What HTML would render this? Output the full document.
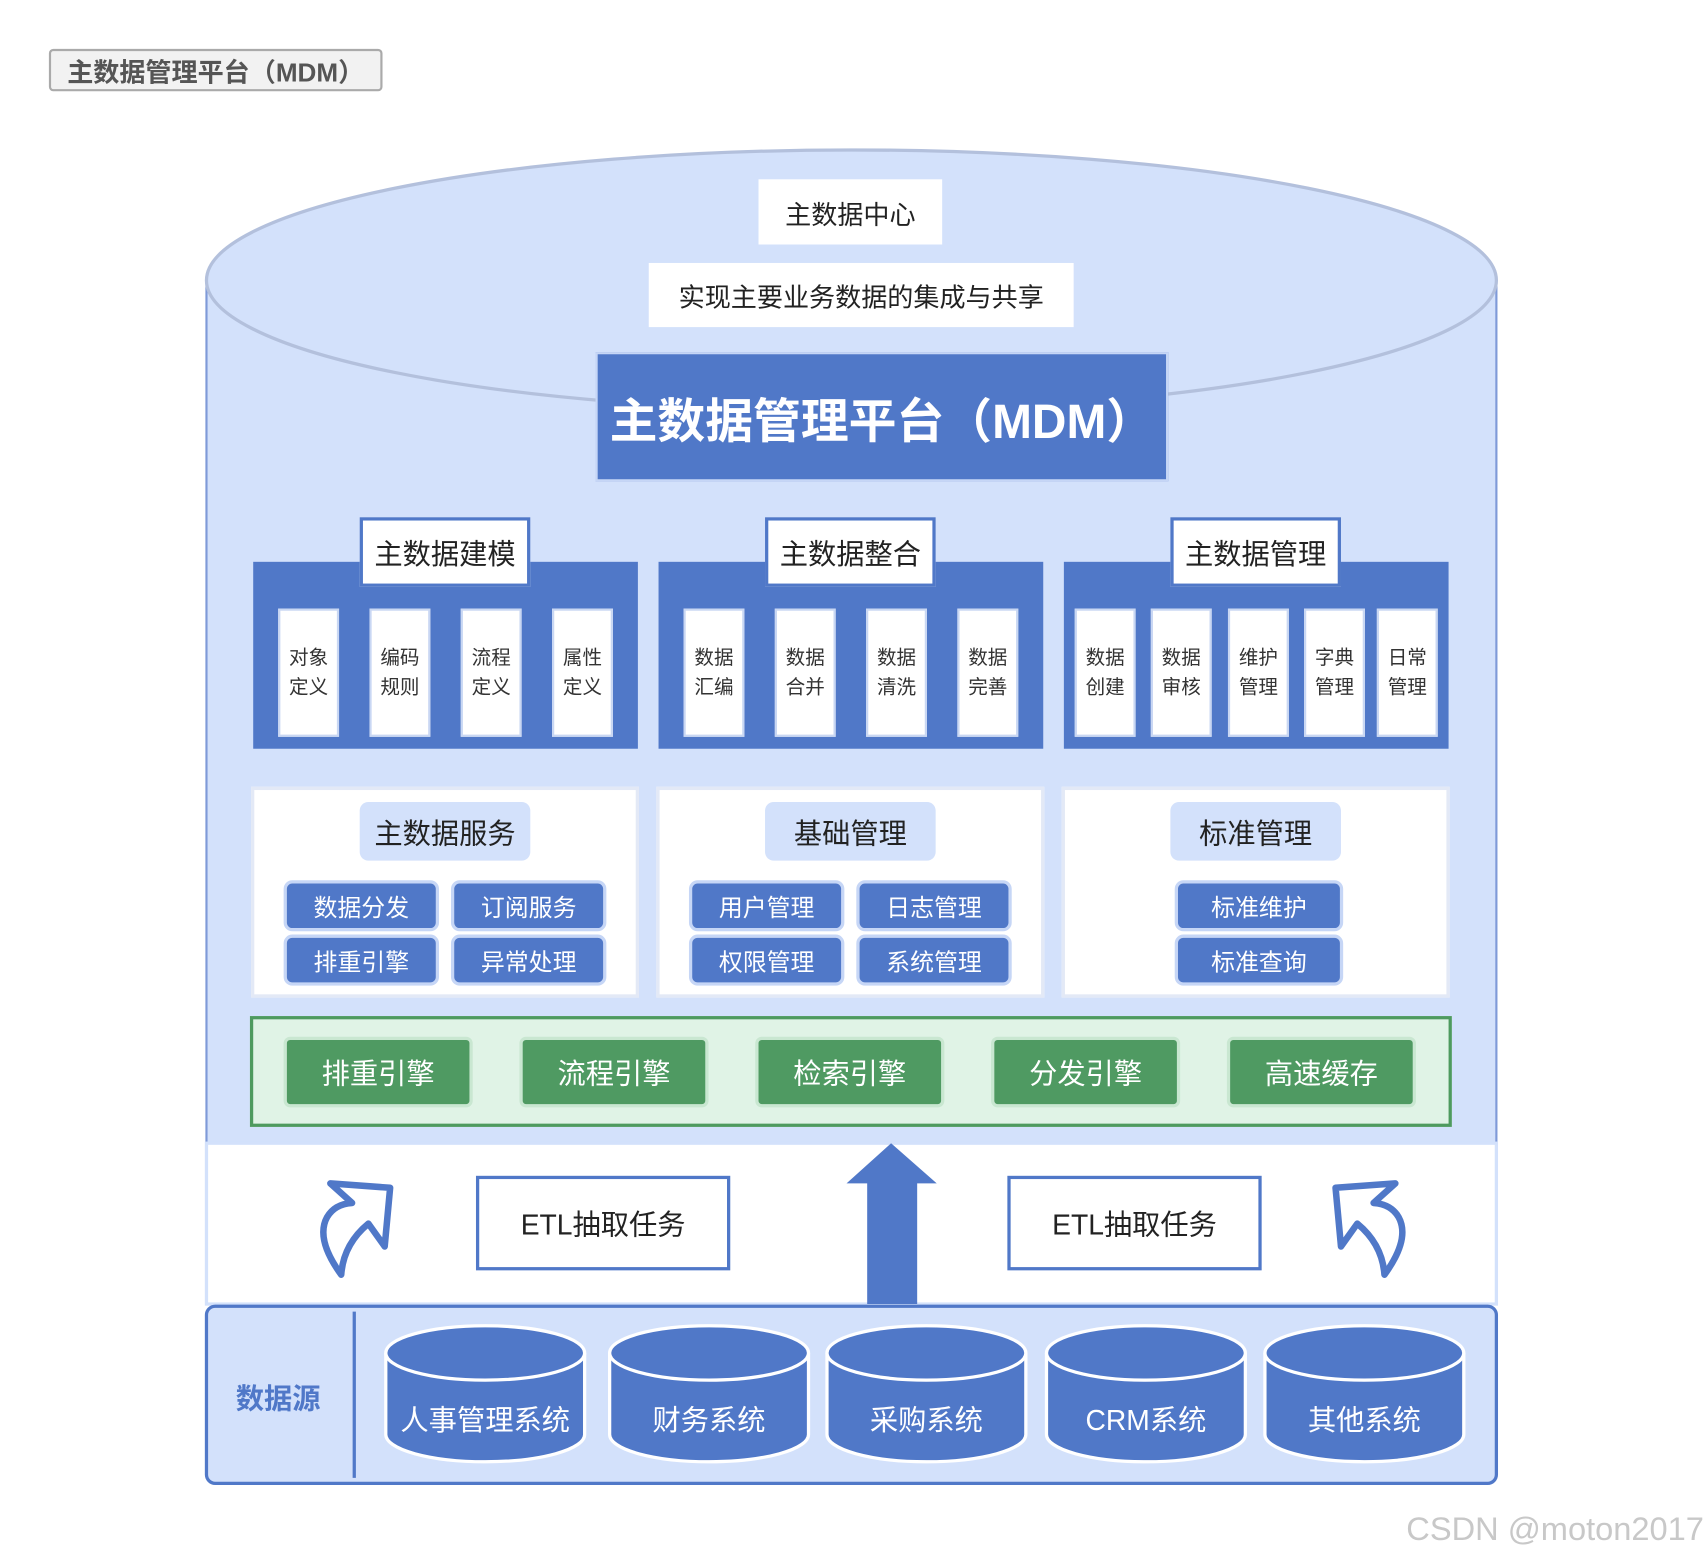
<!DOCTYPE html>
<html><head><meta charset="utf-8"><style>
html,body{margin:0;padding:0;background:#fff;width:1704px;height:1558px;overflow:hidden}
#w{position:absolute;left:0;top:0;width:1568px;height:1434px;transform:scale(1.0867);transform-origin:0 0;font-family:"Liberation Sans","Noto Sans CJK SC",sans-serif}
.a{position:absolute;box-sizing:border-box;display:flex;align-items:center;justify-content:center;text-align:center}
.wb{background:#fff;color:#222;font-size:24px}
.hd{background:#fff;border:3px solid #5078c8;font-size:26px;color:#222}
.dp{background:#5078c8}
.cell{background:#fff;font-size:18px;line-height:27px;color:#333;border:2px solid #c9d7f3}
.wp{background:#fff;border:3px solid #e3e9f6}
.lp{background:#d3e1fb;border-radius:8px;font-size:26px;color:#222}
.bb{background:#5078c8;border:3px solid #c6d6f6;border-radius:8px;color:#fff;font-size:22px}
.gb{background:#4f9a62;border:3px solid #c9e7d1;border-radius:6px;color:#fff;font-size:26px}
.etl{background:#fff;border:3px solid #5078c8;font-size:26px;color:#222}
</style></head><body><div id="w">
<div class="a" style="left:45px;top:45px;width:307px;height:39px;background:#f2f2f2;border:2px solid #aaa;border-radius:4px;color:#555;font-weight:bold;font-size:24px">主数据管理平台（MDM）</div>
<svg width="1568" height="1434" style="position:absolute;left:0;top:0">
<rect x="190" y="258" width="1187" height="794" fill="#d3e1fb"/>
<line x1="190" y1="258" x2="190" y2="1052" stroke="#7f9ad8" stroke-width="2"/>
<line x1="1377" y1="258" x2="1377" y2="1052" stroke="#7f9ad8" stroke-width="2"/>
<ellipse cx="783.5" cy="258" rx="593.5" ry="120" fill="#d3e1fb" stroke="#b3c0dc" stroke-width="3"/>
<rect x="190" y="1052" width="1187" height="148" fill="#fff" stroke="#d3e1fb" stroke-width="3"/>
<rect x="190" y="1202" width="1187" height="163" rx="8" fill="#d3e1fb" stroke="#5078c8" stroke-width="3"/>
<line x1="326" y1="1207" x2="326" y2="1360" stroke="#5078c8" stroke-width="3"/>
<polygon points="820,1052 862,1089 844,1089 844,1200 798,1200 798,1089 779,1089" fill="#5078c8"/>
<path d="M304,1089 L359,1093 L354,1147 L339,1126 Q316,1145 314,1173 Q290,1140 301,1120 Q308,1108 324,1107 Z" fill="#fff" stroke="#5078c8" stroke-width="6" stroke-linejoin="round"/>
<g transform="translate(1588,0) scale(-1,1)"><path d="M304,1089 L359,1093 L354,1147 L339,1126 Q316,1145 314,1173 Q290,1140 301,1120 Q308,1108 324,1107 Z" fill="#fff" stroke="#5078c8" stroke-width="6" stroke-linejoin="round"/></g>
<g fill="#5078c8" stroke="#fff" stroke-width="3">
<path d="M355,1245 V1320 A91,25 0 0 0 538,1320 V1245"/><ellipse cx="446.5" cy="1245" rx="91.5" ry="25"/>
<path d="M561,1245 V1320 A91,25 0 0 0 744,1320 V1245"/><ellipse cx="652.5" cy="1245" rx="91.5" ry="25"/>
<path d="M761,1245 V1320 A91,25 0 0 0 944,1320 V1245"/><ellipse cx="852.5" cy="1245" rx="91.5" ry="25"/>
<path d="M963,1245 V1320 A91,25 0 0 0 1146,1320 V1245"/><ellipse cx="1054.5" cy="1245" rx="91.5" ry="25"/>
<path d="M1164,1245 V1320 A91,25 0 0 0 1347,1320 V1245"/><ellipse cx="1255.5" cy="1245" rx="91.5" ry="25"/>
</g>
</svg>
<div class="a wb" style="left:698px;top:165px;width:169px;height:60px">主数据中心</div>
<div class="a wb" style="left:597px;top:242px;width:391px;height:59px">实现主要业务数据的集成与共享</div>
<div class="a" style="left:548px;top:324px;width:527px;height:119px;background:#5078c8;border:2px solid #c6d6f6;color:#fff;font-weight:bold;font-size:44px">主数据管理平台（MDM）</div>

<div class="a dp" style="left:233px;top:517px;width:354px;height:172px"></div>
<div class="a dp" style="left:606px;top:517px;width:354px;height:172px"></div>
<div class="a dp" style="left:979px;top:517px;width:354px;height:172px"></div>
<div class="a hd" style="left:331px;top:476px;width:157px;height:64px">主数据建模</div>
<div class="a hd" style="left:704px;top:476px;width:157px;height:64px">主数据整合</div>
<div class="a hd" style="left:1077px;top:476px;width:157px;height:64px">主数据管理</div>

<div class="a cell" style="left:256px;top:560px;width:56px;height:118px">对象<br>定义</div>
<div class="a cell" style="left:340px;top:560px;width:56px;height:118px">编码<br>规则</div>
<div class="a cell" style="left:424px;top:560px;width:56px;height:118px">流程<br>定义</div>
<div class="a cell" style="left:508px;top:560px;width:56px;height:118px">属性<br>定义</div>
<div class="a cell" style="left:629px;top:560px;width:56px;height:118px">数据<br>汇编</div>
<div class="a cell" style="left:713px;top:560px;width:56px;height:118px">数据<br>合并</div>
<div class="a cell" style="left:797px;top:560px;width:56px;height:118px">数据<br>清洗</div>
<div class="a cell" style="left:881px;top:560px;width:56px;height:118px">数据<br>完善</div>
<div class="a cell" style="left:989px;top:560px;width:56px;height:118px">数据<br>创建</div>
<div class="a cell" style="left:1059px;top:560px;width:56px;height:118px">数据<br>审核</div>
<div class="a cell" style="left:1130px;top:560px;width:56px;height:118px">维护<br>管理</div>
<div class="a cell" style="left:1200px;top:560px;width:56px;height:118px">字典<br>管理</div>
<div class="a cell" style="left:1267px;top:560px;width:56px;height:118px">日常<br>管理</div>

<div class="a wp" style="left:231px;top:724px;width:357px;height:194px"></div>
<div class="a wp" style="left:604px;top:724px;width:357px;height:194px"></div>
<div class="a wp" style="left:977px;top:724px;width:357px;height:194px"></div>
<div class="a lp" style="left:331px;top:738px;width:157px;height:54px">主数据服务</div>
<div class="a lp" style="left:704px;top:738px;width:157px;height:54px">基础管理</div>
<div class="a lp" style="left:1077px;top:738px;width:157px;height:54px">标准管理</div>
<div class="a bb" style="left:261px;top:810px;width:143px;height:47px">数据分发</div>
<div class="a bb" style="left:415px;top:810px;width:143px;height:47px">订阅服务</div>
<div class="a bb" style="left:261px;top:860px;width:143px;height:47px">排重引擎</div>
<div class="a bb" style="left:415px;top:860px;width:143px;height:47px">异常处理</div>
<div class="a bb" style="left:634px;top:810px;width:143px;height:47px">用户管理</div>
<div class="a bb" style="left:788px;top:810px;width:143px;height:47px">日志管理</div>
<div class="a bb" style="left:634px;top:860px;width:143px;height:47px">权限管理</div>
<div class="a bb" style="left:788px;top:860px;width:143px;height:47px">系统管理</div>
<div class="a bb" style="left:1081px;top:810px;width:155px;height:47px">标准维护</div>
<div class="a bb" style="left:1081px;top:860px;width:155px;height:47px">标准查询</div>

<div class="a" style="left:230px;top:935px;width:1106px;height:102px;background:#e0f3e6;border:3px solid #4e9a5f"></div>
<div class="a gb" style="left:261px;top:954px;width:174px;height:65px">排重引擎</div>
<div class="a gb" style="left:478px;top:954px;width:174px;height:65px">流程引擎</div>
<div class="a gb" style="left:695px;top:954px;width:174px;height:65px">检索引擎</div>
<div class="a gb" style="left:912px;top:954px;width:174px;height:65px">分发引擎</div>
<div class="a gb" style="left:1129px;top:954px;width:174px;height:65px">高速缓存</div>

<div class="a etl" style="left:438px;top:1082px;width:234px;height:87px">ETL抽取任务</div>
<div class="a etl" style="left:927px;top:1082px;width:234px;height:87px">ETL抽取任务</div>

<div class="a" style="left:200px;top:1265px;width:112px;height:40px;color:#5078c8;font-weight:bold;font-size:26px">数据源</div>
<div class="a" style="left:355px;top:1285px;width:183px;height:40px;color:#fff;font-size:26px">人事管理系统</div>
<div class="a" style="left:561px;top:1285px;width:183px;height:40px;color:#fff;font-size:26px">财务系统</div>
<div class="a" style="left:761px;top:1285px;width:183px;height:40px;color:#fff;font-size:26px">采购系统</div>
<div class="a" style="left:963px;top:1285px;width:183px;height:40px;color:#fff;font-size:26px">CRM系统</div>
<div class="a" style="left:1164px;top:1285px;width:183px;height:40px;color:#fff;font-size:26px">其他系统</div>

<div class="a" style="left:1290px;top:1388px;width:278px;height:40px;color:#c8c8c8;font-size:30px;justify-content:flex-end">CSDN @moton2017</div>
</div></body></html>
